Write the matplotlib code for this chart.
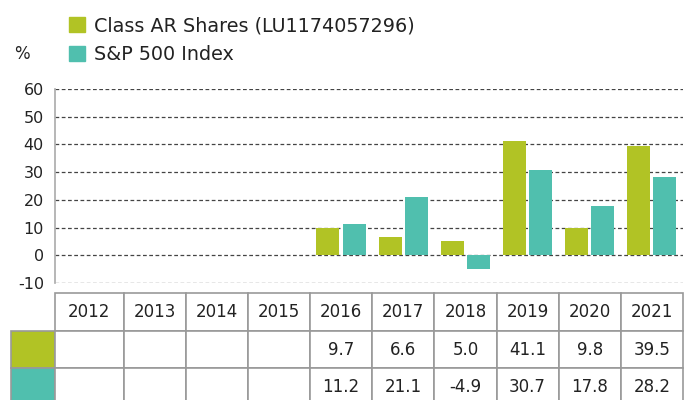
import numpy as np
import matplotlib.pyplot as plt
from matplotlib.patches import Patch

# Data
years = ["2012", "2013", "2014", "2015", "2016", "2017", "2018", "2019", "2020", "2021"]
class_ar = [np.nan, np.nan, np.nan, np.nan, 9.7, 6.6, 5.0, 41.1, 9.8, 39.5]
sp500 = [np.nan, np.nan, np.nan, np.nan, 11.2, 21.1, -4.9, 30.7, 17.8, 28.2]
series_names = ["Class AR Shares (LU1174057296)", "S&P 500 Index"]
y_ticks = [-10, 0, 10, 20, 30, 40, 50, 60]

green = "#b1c325"
teal = "#50bfae"

plt.rcParams["font.family"] = ["DejaVu Sans"]
plt.rcParams["axes.unicode_minus"] = False

fig = plt.figure(figsize=(6.84, 4.0), dpi=100)
ax = fig.add_axes([55 / 684, 1 - 283 / 400, 628 / 684, 194 / 400])

x = np.arange(len(years))
bar_w = 0.37
ax.bar(x - 0.21, class_ar, width=bar_w, color=green, zorder=3)
ax.bar(x + 0.21, sp500, width=bar_w, color=teal, zorder=3)

ax.set_xlim(-0.6, len(years) - 0.5)
ax.set_ylim(-10, 60)
ax.set_yticks(y_ticks)
ax.set_xticks([])
ax.tick_params(axis="y", length=0, pad=8, labelsize=11.5, colors="#222222")

# dashed grid lines
for t in y_ticks:
    ax.axhline(t, color="#444444", lw=0.9, dashes=(3, 2), zorder=1)

for s in ["top", "right", "bottom"]:
    ax.spines[s].set_visible(False)
ax.spines["left"].set_color("#aaaaaa")
ax.spines["left"].set_linewidth(1.2)

# "%" label
fig.text(14 / 684, 1 - 54 / 400, "%", fontsize=12, va="center", ha="left", color="#222222")

# legend
handles = [Patch(color=green), Patch(color=teal)]
fig.legend(handles, series_names, loc="upper left", bbox_to_anchor=(69 / 684, 1 - 16 / 400),
           frameon=False, fontsize=13.8, handlelength=0.82, handleheight=0.82,
           handletextpad=0.5, labelspacing=0.52, borderaxespad=0, borderpad=0,
           labelcolor="#222222")

# data table under the chart
def fmt(v):
    return "" if np.isnan(v) else f"{v:.1f}"

cell_text = [[""] + years,
             [""] + [fmt(v) for v in class_ar],
             [""] + [fmt(v) for v in sp500]]
cell_colors = [["white"] * 11,
               [green] + ["white"] * 10,
               [teal] + ["white"] * 10]
col_w = [0.71, 1.1] + [1.0] * 9

tbl = ax.table(cellText=cell_text, cellColours=cell_colors, colWidths=col_w,
               cellLoc="center", bbox=[-44 / 628, -0.635, 672 / 628, 0.583])
tbl.auto_set_font_size(False)
tbl.set_fontsize(12)
for (r, c), cell in tbl.get_celld().items():
    cell.set_edgecolor("#999999")
    cell.set_linewidth(1.2)
    cell.get_text().set_color("#222222")
tbl[0, 0].visible_edges = ""
tbl[0, 0].set_facecolor("none")

fig.savefig("out.png", dpi=100)
